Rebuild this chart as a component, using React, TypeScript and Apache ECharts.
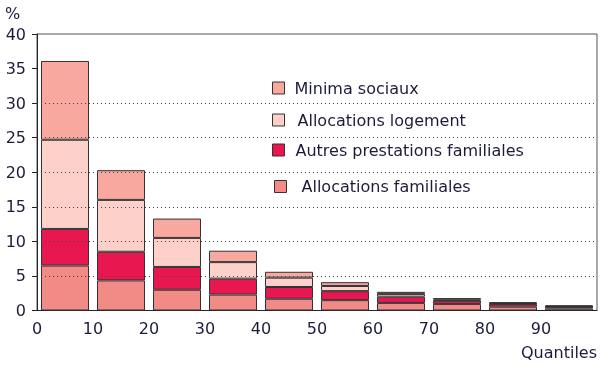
import React, { useEffect, useRef } from "react";
import * as echarts from "echarts";

const categories = ["0-10", "10-20", "20-30", "30-40", "40-50", "50-60", "60-70", "70-80", "80-90", "90-100"];
const allocationsFamiliales = [6.5, 4.35, 3.0, 2.3, 1.7, 1.5, 1.1, 0.95, 0.55, 0.3];
const autresPrestations = [5.3, 4.15, 3.3, 2.3, 1.7, 1.3, 0.9, 0.45, 0.4, 0.25];
const allocationsLogement = [12.9, 7.5, 4.2, 2.4, 1.35, 0.75, 0.4, 0.15, 0.1, 0.05];
const minimaSociaux = [11.4, 4.3, 2.8, 1.65, 0.85, 0.55, 0.3, 0.25, 0.15, 0.15];
const gridValues = [5, 10, 15, 20, 25, 30];

const FONT = "DejaVu Sans";
const TXT = "#1c1c3a";

export default function App() {
  const ref = useRef<HTMLDivElement>(null);
  useEffect(() => {
    if (!ref.current) return;
    const chart = echarts.init(ref.current, undefined, { renderer: "svg" });
    const seriesDefs = [
      { name: "Allocations familiales", data: allocationsFamiliales, color: "#f28b85" },
      { name: "Autres prestations familiales", data: autresPrestations, color: "#e8174f" },
      { name: "Allocations logement", data: allocationsLogement, color: "#fdd1ca" },
      { name: "Minima sociaux", data: minimaSociaux, color: "#f9a8a0" },
    ];
    const legendPos: Record<string, [number, number, number]> = {
      "Minima sociaux": [272, 80, 5],
      "Allocations logement": [272, 112, 8],
      "Autres prestations familiales": [272, 142, 6],
      "Allocations familiales": [274, 178.5, 10],
    };
    const legends = Object.keys(legendPos).map((name) => {
      const [l, t, pad] = legendPos[name];
      const col = seriesDefs.find((s) => s.name === name)!.color;
      return {
        data: [name],
        left: l,
        top: t,
        padding: 0,
        orient: "vertical",
        itemWidth: 12,
        itemHeight: 12,
        icon: "rect",
        itemStyle: { color: col, borderColor: "#333", borderWidth: 1 },
        textStyle: { fontFamily: FONT, fontSize: 16, color: TXT, padding: [0, 0, 0, pad] },
        selectedMode: false,
      };
    });
    chart.setOption({
      animation: false,
      textStyle: { fontFamily: FONT },
      grid: {
        left: 37,
        right: 7,
        top: 34,
        bottom: 56.5,
        show: true,
        borderColor: "#555",
        borderWidth: 1,
      },
      legend: legends,
      xAxis: [
        {
          type: "category",
          data: categories,
          show: false,
        },
        {
          type: "value",
          min: 0,
          max: 100,
          interval: 10,
          position: "bottom",
          axisLine: { show: true, lineStyle: { color: "#222", width: 1 } },
          axisTick: { show: false },
          splitLine: { show: false },
          axisLabel: {
            fontFamily: FONT,
            fontSize: 16,
            color: TXT,
            margin: 10,
            formatter: (v: number) => (v === 100 ? "" : String(v)),
          },
        },
      ],
      yAxis: {
        type: "value",
        min: 0,
        max: 40,
        interval: 5,
        axisLine: { show: true, lineStyle: { color: "#222", width: 1 } },
        axisTick: { show: true, length: 5, lineStyle: { color: "#222" } },
        splitLine: { show: false },
        axisLabel: { fontFamily: FONT, fontSize: 16, color: TXT, margin: 11 },
      },
      graphic: [
        { type: "text", left: 5, top: 5, style: { text: "%", font: `16px "${FONT}"`, fill: TXT } },
        { type: "text", left: 521, top: 344, style: { text: "Quantiles", font: `16px "${FONT}"`, fill: TXT } },
      ],
      series: [
        {
          type: "line",
          name: "grid",
          data: [],
          z: 0,
          silent: true,
          markLine: {
            silent: true,
            symbol: "none",
            label: { show: false },
            lineStyle: { type: [1, 3], color: "#444", width: 1 },
            data: gridValues.map((v) => ({ yAxis: v })),
          },
        },
        ...seriesDefs.map((s) => ({
          type: "bar",
          name: s.name,
          data: s.data,
          stack: "total",
          xAxisIndex: 0,
          barWidth: 48,
          z: 3,
          itemStyle: { color: s.color, borderColor: "#333", borderWidth: 1 },
        })),
      ],
    });
    return () => chart.dispose();
  }, []);
  return <div ref={ref} style={{ position: "fixed", left: 0, top: 0, width: 604, height: 367 }} />;
}
